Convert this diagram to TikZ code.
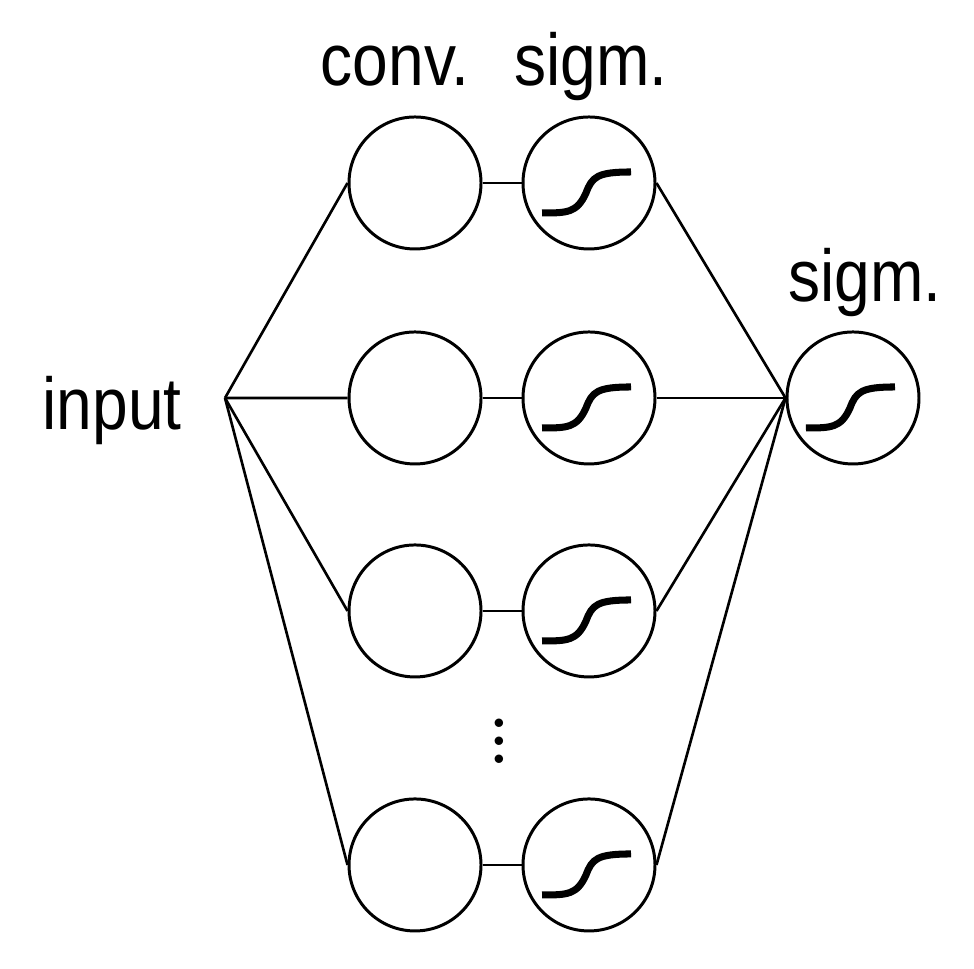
\documentclass[tikz,border=0pt]{standalone}
\usepackage{fontspec}
\setmainfont{Liberation Sans}
\usetikzlibrary{positioning}
\newcommand{\stackdots}{\vbox{\baselineskip=5.1pt \lineskiplimit=0pt \hbox{$.$}\hbox{$.$}\hbox{$.$}}}

\begin{document}
\begin{tikzpicture}[every node/.style={transform shape},
    unit/.style={draw,shape=circle,line width=0.85pt,minimum size=1.32cm,inner sep=0pt},
    caption/.style={font=\fontsize{19}{20}\selectfont,inner sep=0pt,xscale=0.96,yscale=1.1},
    edge/.style={line width=0.75pt},
    curve/.style={line width=2pt}]
      \useasboundingbox (0,0) rectangle (9.74,9.68);

      \node[unit] (conv1) at (4.15,7.85) {};
      \node[unit, below=0.80cm of conv1] (conv2) {};
      \node[unit, below=0.78cm of conv2] (conv3) {};
      \node[unit, below=1.19cm of conv3] (conv4) {};
      \node[unit, right=0.39cm of conv1] (sigm1) {};
      \node[unit, right=0.39cm of conv2] (sigm2) {};
      \node[unit, right=0.39cm of conv3] (sigm3) {};
      \node[unit, right=0.39cm of conv4] (sigm4) {};
      \node[unit, right=1.29cm of sigm2] (out) {};

      \node[caption, anchor=base] (lconv) at (3.95,8.82) {conv.};
      \node[caption, anchor=base] (lsigm) at (5.91,8.82) {sigm.};
      \node[caption, anchor=base] (lout) at (8.65,6.66) {sigm.};
      \node[caption, anchor=base] (input) at (1.12,5.38) {input};
      \node[font=\fontsize{24}{26}\selectfont, inner sep=0pt, below=0.40cm of sigm3, xshift=-0.90cm] (dots) {\stackdots};

      \coordinate (fork) at (2.25,5.70);

      \foreach \row in {1,2,3,4} {
        \draw[edge] (fork) -- (conv\row.west);
        \draw[edge] (conv\row) -- (sigm\row);
        \draw[edge] (sigm\row.east) -- (out.west);
      }
      \foreach \n in {sigm1,sigm2,sigm3,sigm4,out}
        \draw[curve,shift={(\n.center)}] (-0.47,-0.30) .. controls (-0.22,-0.30) and (-0.12,-0.30) .. (-0.03,-0.10)
          .. controls (0.03,0.06) and (0.08,0.11) .. (0.42,0.11);
    \end{tikzpicture}
\end{document}
